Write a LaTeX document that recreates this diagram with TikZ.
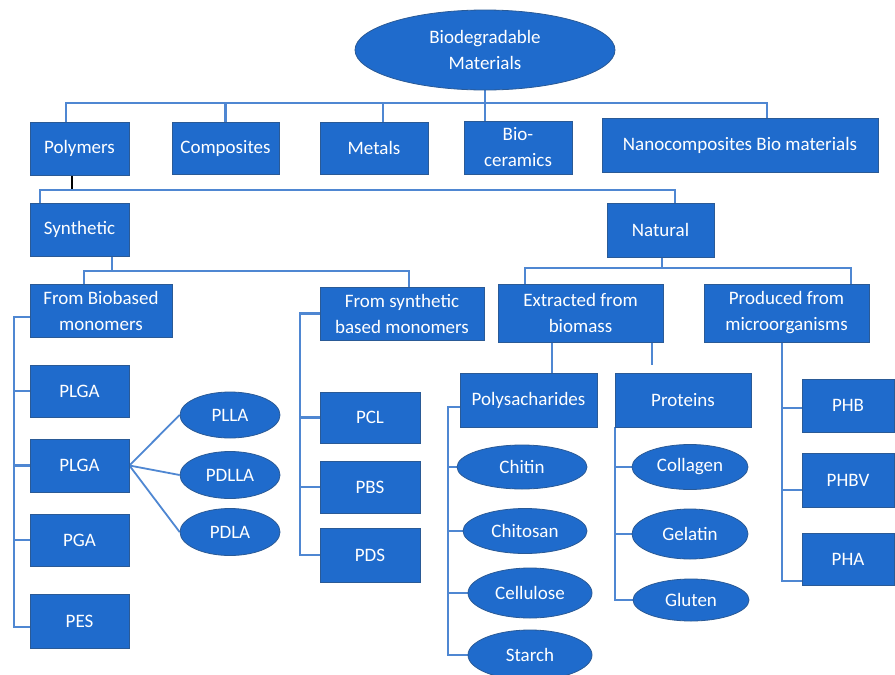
\documentclass[tikz,border=0pt]{standalone}
\usepackage{fontspec}
\setmainfont{Carlito}
\usetikzlibrary{shapes.geometric,backgrounds}
\definecolor{boxfill}{HTML}{1F6BCC}
\definecolor{boxedge}{HTML}{2A5A96}
\definecolor{linecol}{HTML}{4F87D2}
\tikzset{
  base/.style={fill=boxfill, draw=boxedge, line width=0.8pt, text=white, align=center, inner sep=0pt,
    font=\fontsize{19}{26}\selectfont},
  box/.style={base, rectangle},
  oval/.style={base, ellipse},
  conn/.style={draw=linecol, line width=2.2pt},
}
\begin{document}
\begin{tikzpicture}[x=1pt, y=-1pt]
\useasboundingbox (0,0) rectangle (895,675);

% level 0
\node[oval, minimum width=260pt, minimum height=80pt] (root) at (485,50) {Biodegradable\\Materials};

% level 1
\node[box, minimum width=99pt, minimum height=53pt] (poly) at (79.5,148.5) {Polymers};
\node[box, minimum width=107pt, minimum height=52pt] (comp) at (225.5,148) {Composites};
\node[box, minimum width=108pt, minimum height=52pt] (metals) at (374,148) {Metals};
\node[box, minimum width=108pt, minimum height=53pt] (bioc) at (518,147.5) {Bio-\\ceramics};
\node[box, minimum width=276pt, minimum height=54pt] (nano) at (740,145) {Nanocomposites Bio materials};

% level 2
\node[box, minimum width=99pt, minimum height=53pt] (synth) at (79.5,229.5) {Synthetic};
\node[box, minimum width=107pt, minimum height=54pt] (natural) at (660.5,230) {Natural};

% level 3
\node[box, minimum width=142pt, minimum height=53pt] (biobased) at (101,310.5) {From Biobased\\monomers};
\node[box, minimum width=164pt, minimum height=53pt] (synbased) at (402,313.5) {From synthetic\\based monomers};
\node[box, minimum width=165pt, minimum height=58pt] (extracted) at (580.5,313) {Extracted from\\biomass};
\node[box, minimum width=165pt, minimum height=58pt] (produced) at (786.5,313) {Produced from\\microorganisms};

% level 4
\node[box, minimum width=137pt, minimum height=54pt] (polys) at (528.5,400) {Polysacharides};
\node[box, minimum width=136pt, minimum height=54pt] (proteins) at (683,400) {Proteins};

% biobased column
\node[box, minimum width=99pt, minimum height=52pt] (plga1) at (79.5,391) {PLGA};
\node[box, minimum width=99pt, minimum height=53pt] (plga2) at (79.5,465.5) {PLGA};
\node[box, minimum width=99pt, minimum height=52pt] (pga) at (79.5,540) {PGA};
\node[box, minimum width=99pt, minimum height=54pt] (pes) at (79.5,621) {PES};
\node[oval, minimum width=100pt, minimum height=46pt] (plla) at (230,415) {PLLA};
\node[oval, minimum width=100pt, minimum height=47pt] (pdlla) at (230,475) {PDLLA};
\node[oval, minimum width=100pt, minimum height=47pt] (pdla) at (230,532) {PDLA};

% synthetic-based column
\node[box, minimum width=100pt, minimum height=51pt] (pcl) at (370,417.5) {PCL};
\node[box, minimum width=100pt, minimum height=52pt] (pbs) at (370,487) {PBS};
\node[box, minimum width=100pt, minimum height=54pt] (pds) at (370,555) {PDS};

% polysaccharides column
\node[oval, minimum width=130pt, minimum height=44pt] (chitin) at (522,467) {Chitin};
\node[oval, minimum width=124pt, minimum height=45pt] (chitosan) at (525,531) {Chitosan};
\node[oval, minimum width=124pt, minimum height=50pt] (cellulose) at (530,593) {Cellulose};
\node[oval, minimum width=124pt, minimum height=50pt] (starch) at (530,655) {Starch};

% proteins column
\node[oval, minimum width=116pt, minimum height=45pt] (collagen) at (690,467) {Collagen};
\node[oval, minimum width=116pt, minimum height=50pt] (gelatin) at (690,534) {Gelatin};
\node[oval, minimum width=116pt, minimum height=42pt] (gluten) at (691,600) {Gluten};

% microorganisms column
\node[box, minimum width=92pt, minimum height=53pt] (phb) at (848,405.5) {PHB};
\node[box, minimum width=92pt, minimum height=54pt] (phbv) at (848,480) {PHBV};
\node[box, minimum width=92pt, minimum height=52pt] (pha) at (848,559) {PHA};

% bus coordinates
\coordinate (b1l) at (66,103);
\coordinate (b1r) at (767,103);
\coordinate (b2l) at (40,190);
\coordinate (b2r) at (675,190);
\coordinate (b3l) at (84,271);
\coordinate (b3r) at (409,271);
\coordinate (b4l) at (525,268);
\coordinate (b4r) at (851,268);
\coordinate (ccol) at (14,0);
\coordinate (scol) at (300,0);
\coordinate (pcol) at (448,0);
\coordinate (prcol) at (615,0);
\coordinate (mcol) at (782,0);

\begin{scope}[on background layer]
\fill[white] (0,0) rectangle (895,675);
% top level
\draw[conn] ([xshift=-13.5pt]poly.north) -- (b1l) -- (b1r) -- ([xshift=27pt]nano.north);
\draw[conn] (comp.north) -- ++(0pt,19pt);
\draw[conn] ([xshift=9pt]metals.north) -- ++(0pt,19pt);
\draw[conn] (root.south) -- (root.south |- bioc.north);

% polymers
\draw[black, line width=1.2pt] ([xshift=-7.5pt]poly.south) -- ++(0pt,-15pt);
\draw[conn] ([xshift=-39.5pt]synth.north) -- (b2l) -- (b2r) -- ([xshift=14.5pt]natural.north);

% synthetic
\draw[conn] ([xshift=32.5pt]synth.south) -- ++(0pt,-15pt);
\draw[conn] ([xshift=-17pt]biobased.north) -- (b3l) -- (b3r) -- ([xshift=7pt]synbased.north);

% natural
\draw[conn] ([xshift=1.5pt]natural.south) -- ++(0pt,-11pt);
\draw[conn] ([xshift=-55.5pt]extracted.north) -- (b4l) -- (b4r) -- ([xshift=64.5pt]produced.north);

% extracted
\draw[conn] ([xshift=-28.5pt]extracted.south) -- ([xshift=23.5pt]polys.north);
\draw[conn] ([xshift=71.5pt]extracted.south) -- ++(0pt,-23pt);

% biobased column
\draw[conn] ([yshift=-6.5pt]biobased.west) -- ++(-16pt,0pt) |- ([yshift=-6pt]pes.west);
\draw[conn] (plga1.west) -- (plga1.west -| ccol);
\draw[conn] (plga2.west) -- (plga2.west -| ccol);
\draw[conn] (pga.west) -- (pga.west -| ccol);
\draw[conn, line width=1.8pt] (plga2.east) -- (plla.west);
\draw[conn, line width=1.8pt] (plga2.east) -- (pdlla.west);
\draw[conn, line width=1.8pt] (plga2.east) -- (pdla.west);

% synthetic-based column
\draw[conn] (synbased.west) -- ++(-20pt,0pt) |- (pds.west);
\draw[conn] (pcl.west) -- (pcl.west -| scol);
\draw[conn] (pbs.west) -- (pbs.west -| scol);

% polysaccharides column
\draw[conn] ([yshift=-7pt]polys.west) -- ++(-12pt,0pt) |- (starch.west);
\draw[conn] (chitin.west) -- (chitin.west -| pcol);
\draw[conn] (chitosan.west) -- (chitosan.west -| pcol);
\draw[conn] (cellulose.west) -- (cellulose.west -| pcol);

% proteins column
\draw[conn] (proteins.south west) |- (gluten.west);
\draw[conn] (collagen.west) -- (collagen.west -| prcol);
\draw[conn] (gelatin.west) -- (gelatin.west -| prcol);

% microorganisms column
\draw[conn] ([xshift=-4.5pt]produced.south) |- ([yshift=-22pt]pha.west);
\draw[conn] ([yshift=-2.5pt]phb.west) -- ++(-20pt,0pt);
\draw[conn] ([yshift=-10pt]phbv.west) -- ++(-20pt,0pt);
\end{scope}
\end{tikzpicture}
\end{document}
